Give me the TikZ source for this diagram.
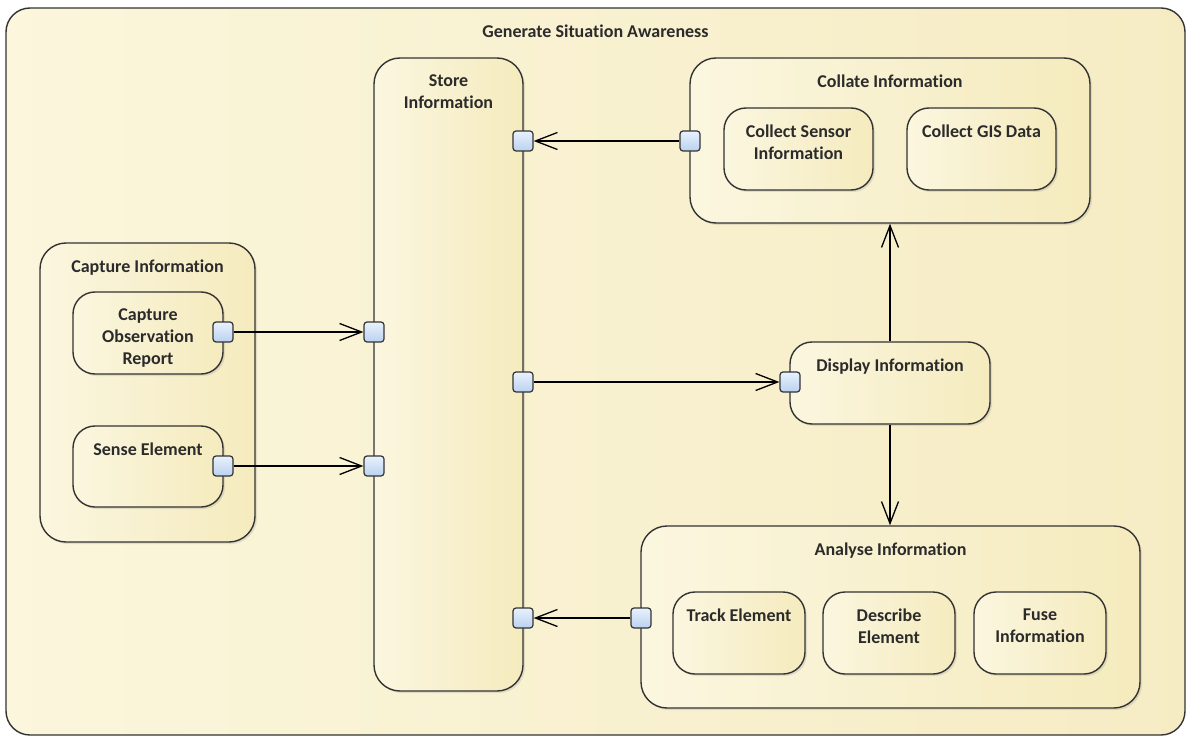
\documentclass[tikz,border=0pt]{standalone}
\usepackage{fontspec}
\setmainfont{Carlito}[Ligatures=NoCommon]
\usetikzlibrary{arrows.meta,shadows}
\definecolor{edge}{HTML}{333333}
\definecolor{creamL}{HTML}{FBF6DF}
\definecolor{creamR}{HTML}{F5EBBE}
\definecolor{bgL}{HTML}{FBF6DC}
\definecolor{bgR}{HTML}{F6ECC4}
\definecolor{portL}{HTML}{E9F2FD}
\definecolor{portR}{HTML}{BAD1EF}
\definecolor{txt}{HTML}{2B2B2B}
\tikzset{
  frame/.style={draw=edge, line width=1.4pt, rounded corners=22pt, left color=creamL, right color=creamR, inner sep=0pt},
  act/.style={frame, drop shadow={opacity=0.2, shadow xshift=2pt, shadow yshift=-2pt}},
  ttl/.style={anchor=north, inner sep=0pt, align=center, font=\fontsize{18}{22}\selectfont\bfseries, text=txt},
  port/.style={draw=edge, line width=1.2pt, rounded corners=3pt, minimum size=20pt, inner sep=0pt, top color=portL, bottom color=portR},
  flow/.style={draw=black, line width=1.3pt, -{Straight Barb[length=22pt,width=17pt,line width=1.3pt]}},
}
\begin{document}
\begin{tikzpicture}[x=1pt,y=-1pt]
\useasboundingbox (0,0) rectangle (1188,738);
% outer frame
\node[frame, rounded corners=24pt, left color=bgL, right color=bgR, minimum width=1179pt, minimum height=727pt] (gsa) at (595.5,371.5) {};
\node[ttl] (gsat) at ([yshift=-17pt]gsa.north) {Generate Situation Awareness};
% store
\node[act, rounded corners=26pt, minimum width=149pt, minimum height=633pt] (store) at (448.5,374.5) {};
\node[ttl] (storet) at ([yshift=-17pt]store.north) {Store\\Information};
% collate
\node[act, rounded corners=26pt, minimum width=400pt, minimum height=165pt] (col) at (890,140.5) {};
\node[ttl] (colt) at ([yshift=-17pt]col.north) {Collate Information};
\node[act, minimum width=149pt, minimum height=82pt] (csi) at (798.5,149) {};
\node[ttl] (csit) at ([yshift=-17pt]csi.north) {Collect Sensor\\Information};
\node[act, minimum width=149pt, minimum height=82pt] (gis) at (981.5,149) {};
\node[ttl] (gist) at ([yshift=-17pt]gis.north) {Collect GIS Data};
% capture
\node[act, rounded corners=26pt, minimum width=215pt, minimum height=299pt] (cap) at (147.5,392.5) {};
\node[ttl] (capt) at ([yshift=-17pt]cap.north) {Capture Information};
\node[act, minimum width=150pt, minimum height=82pt] (cor) at (148,333) {};
\node[ttl] (cort) at ([yshift=-17pt]cor.north) {Capture\\Observation\\Report};
\node[act, minimum width=150pt, minimum height=81pt] (se) at (148,466.5) {};
\node[ttl] (set) at ([yshift=-17pt]se.north) {Sense Element};
% display
\node[act, minimum width=200pt, minimum height=82pt] (disp) at (890,383) {};
\node[ttl] (dispt) at ([yshift=-17pt]disp.north) {Display Information};
% analyse
\node[act, rounded corners=26pt, minimum width=499pt, minimum height=182pt] (an) at (890.5,617) {};
\node[ttl] (ant) at ([yshift=-17pt]an.north) {Analyse Information};
\node[act, minimum width=132pt, minimum height=82pt] (tr) at (739,633) {};
\node[ttl] (trt) at ([yshift=-17pt]tr.north) {Track Element};
\node[act, minimum width=132pt, minimum height=82pt] (de) at (889,633) {};
\node[ttl] (det) at ([yshift=-17pt]de.north) {Describe\\Element};
\node[act, minimum width=132pt, minimum height=82pt] (fu) at (1040,633) {};
\node[ttl] (fut) at ([yshift=-17pt]fu.north) {Fuse\\Information};
% ports
\node[port] (pcor) at (223,332) {};
\node[port] (pse) at (223,466) {};
\node[port] (ps1) at (374,332) {};
\node[port] (ps2) at (374,466) {};
\node[port] (pstop) at (523,141) {};
\node[port] (psmid) at (523,382) {};
\node[port] (psbot) at (523,618) {};
\node[port] (pcol) at (690,141) {};
\node[port] (pdisp) at (790,382) {};
\node[port] (pan) at (641,618) {};
% flows
\draw[flow] (pcor) -- (ps1);
\draw[flow] (pse) -- (ps2);
\draw[flow] (pcol) -- (pstop);
\draw[flow] (psmid) -- (pdisp);
\draw[flow] (pan) -- (psbot);
\draw[flow] (disp.north) -- (col.south);
\draw[flow] (disp.south) -- (disp.south |- an.north);
\end{tikzpicture}
\end{document}
